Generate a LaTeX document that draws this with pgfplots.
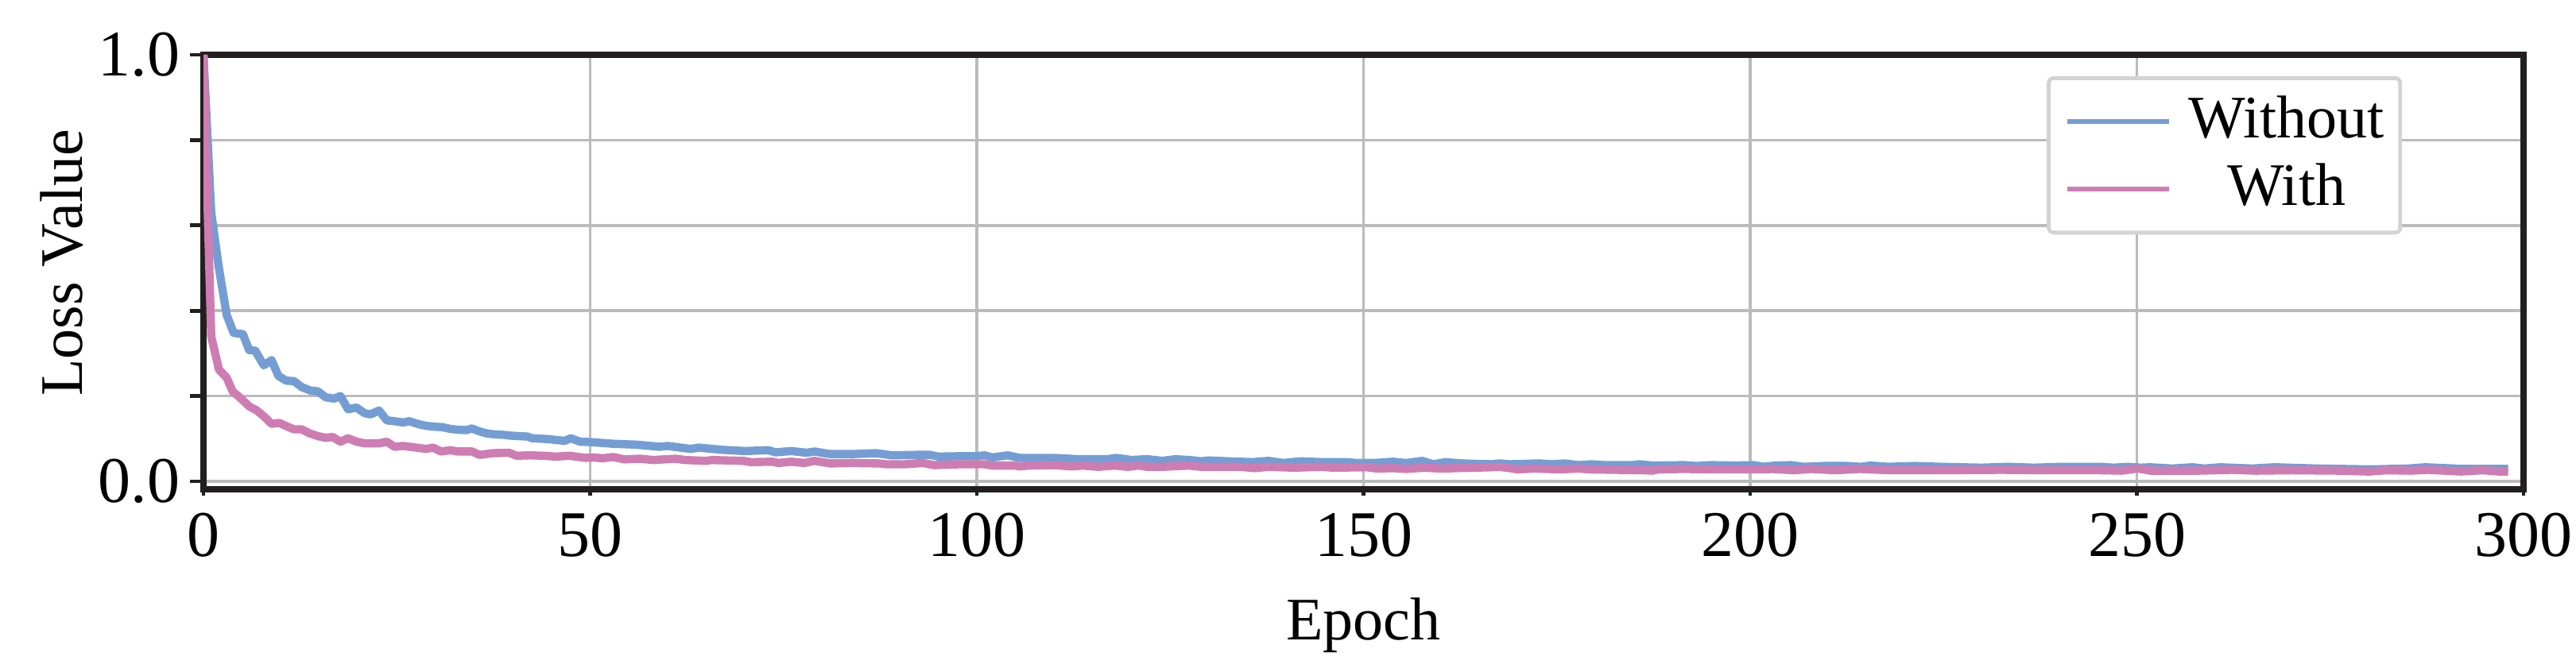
\documentclass[border=0pt]{standalone}
\usepackage{fontspec}
\setmainfont{Liberation Serif}
\usepackage{pgfplots}
\pgfplotsset{compat=1.18}
\definecolor{cblue}{RGB}{116,158,211}
\definecolor{cpink}{RGB}{206,125,179}
\definecolor{framec}{RGB}{35,31,32}
\definecolor{gridgray}{RGB}{187,187,187}
\definecolor{legendgray}{RGB}{211,211,213}
\begin{document}
\begin{tikzpicture}
\path[use as bounding box] (-64pt,-56.25pt) rectangle (746.25pt,154pt);
\begin{axis}[
  scale only axis, width=729.75pt, height=136.75pt,
  at={(0,0)}, anchor=south west,
  xmin=0, xmax=300, ymin=-0.0186, ymax=1,
  xtick={0,50,...,300},
  ytick={0,0.2,0.4,0.6,0.8,1},
  yticklabels={0.0,{},{},{},{},1.0},
  grid=major,
  major grid style={line width=0.9pt, color=gridgray},
  axis line style={line width=2.2pt, color=framec},
  tick pos=left, tick align=outside,
  major tick length=4.25pt,
  tick style={line width=1.2pt, color=framec},
  xtick style={/pgfplots/major tick length=2pt},
  /pgf/number format/assume math mode=true,
  ticklabel style={font=\fontsize{20.5}{24}\selectfont, inner sep=0pt},
  xticklabel style={anchor=north, yshift=-3pt},
  yticklabel style={anchor=east, xshift=-3pt},
  xlabel={Epoch}, ylabel={Loss Value},
  label style={font=\fontsize{19}{22}\selectfont, inner sep=0pt},
  xlabel style={at={(axis description cs:0.5,-0.347)}, anchor=base},
  ylabel style={at={(axis description cs:-0.0522,0.521)}, anchor=base, rotate=0},
  legend cell align=center,
  legend image code/.code={\draw[#1, line width=1.5pt, line cap=butt] (0pt,0pt) -- (32pt,0pt);},
  legend style={at={(0.9476,0.9506)}, anchor=north east,
    draw=legendgray, line width=1.2pt, rounded corners=1.5pt, fill=white,
    inner xsep=5pt, inner ysep=5.5pt, row sep=5.25pt,
    font=\fontsize{19}{22}\selectfont,
    nodes={inner sep=0pt, text depth=3pt},
    /tikz/every odd column/.append style={column sep=5.5pt}},
]
\addplot[color=cblue, line width=2.6pt, line join=round] coordinates {
(0,1.0)(1,0.63)(2,0.50)(3,0.39)(3.9,0.348)(5.1,0.345)(5.9,0.308)(6.7,0.306)(7.8,0.272)(8.8,0.284)(9.7,0.247)(10.7,0.236)(11.7,0.235)(12.7,0.221)(13.8,0.213)(14.8,0.211)(15.8,0.197)(16.9,0.194)(17.7,0.200)(18.7,0.169)(19.8,0.173)(20.8,0.160)(21.6,0.157)(22.7,0.166)(23.7,0.143)(24.7,0.141)(25.8,0.138)(26.6,0.141)(27.8,0.134)(28.8,0.130)(29.9,0.128)(30.9,0.127)(31.9,0.123)(32.9,0.121)(34.0,0.120)(34.7,0.124)(35.7,0.117)(36.7,0.112)(37.7,0.110)(38.8,0.109)(39.8,0.107)(40.8,0.106)(41.9,0.105)(42.5,0.101)(43.6,0.100)(44.6,0.099)(45.6,0.097)(46.7,0.095)(47.5,0.101)(48.7,0.093)(50.1,0.092)(53,0.088)(56,0.086)(59,0.081)(60,0.083)(63,0.076)(64,0.079)(67,0.074)(70,0.071)(73,0.073)(74,0.068)(76,0.071)(78,0.067)(79,0.070)(81,0.064)(84,0.064)(87,0.066)(89,0.061)(92,0.062)(94,0.062)(95,0.058)(98,0.059)(100,0.059)(101,0.061)(102,0.056)(104,0.061)(105.5,0.055)(110,0.055)(113,0.052)(117,0.052)(118,0.055)(120,0.050)(122,0.052)(124,0.048)(125.7,0.052)(128,0.049)(129,0.047)(130,0.049)(132.5,0.047)(135.6,0.045)(137.7,0.048)(139.7,0.043)(141.8,0.047)(144.6,0.045)(148,0.045)(149,0.043)(151.4,0.043)(153.8,0.046)(155.5,0.043)(157.6,0.048)(159,0.040)(160.6,0.045)(162.7,0.042)(166.5,0.040)(167.5,0.042)(169,0.040)(172.7,0.042)(174.4,0.040)(176,0.042)(177.8,0.038)(179.5,0.040)(181.2,0.038)(184.7,0.038)(185.7,0.040)(187.4,0.037)(191.5,0.038)(193,0.036)(194.9,0.038)(198,0.037)(200.4,0.038)(201.8,0.034)(203.2,0.037)(205.3,0.038)(206.9,0.034)(209.5,0.036)(212.4,0.036)(214.4,0.034)(215.5,0.037)(217.9,0.034)(221.3,0.036)(224.7,0.034)(229.9,0.032)(233.3,0.034)(236.7,0.032)(240.2,0.034)(245.3,0.034)(247,0.032)(248.8,0.034)(250.5,0.032)(251.7,0.033)(254.6,0.030)(257.2,0.033)(258.7,0.030)(260.8,0.033)(264.9,0.030)(267.8,0.033)(273.4,0.030)(280.3,0.028)(285.1,0.030)(287.3,0.033)(292.3,0.029)(298,0.029)
};
\addlegendentry{Without}
\addplot[color=cpink, line width=2.6pt, line join=round] coordinates {
(0,1.0)(1,0.34)(2,0.262)(3,0.243)(3.8,0.21)(4.5,0.200)(5.2,0.188)(5.9,0.176)(6.9,0.166)(7.9,0.151)(8.8,0.135)(9.8,0.137)(10.9,0.128)(11.7,0.122)(12.7,0.122)(13.8,0.112)(14.8,0.106)(15.8,0.102)(16.7,0.104)(17.7,0.093)(18.7,0.101)(19.8,0.093)(20.9,0.089)(22.7,0.089)(23.7,0.093)(24.7,0.081)(25.8,0.083)(27.1,0.080)(28.8,0.076)(29.7,0.079)(30.7,0.070)(31.9,0.073)(32.9,0.070)(34.7,0.070)(35.7,0.062)(37.4,0.066)(39.5,0.067)(40.5,0.060)(42.2,0.061)(43.9,0.060)(45.6,0.058)(47.3,0.060)(49.4,0.055)(50.5,0.056)(51.6,0.054)(53,0.057)(54.4,0.0515)(56.4,0.053)(58.2,0.050)(61,0.053)(62.3,0.050)(65,0.048)(65.7,0.050)(67.7,0.049)(69.8,0.048)(70.8,0.045)(73.6,0.046)(74.3,0.043)(76,0.046)(77.7,0.043)(79,0.048)(80.4,0.044)(81,0.042)(83.9,0.043)(87.3,0.042)(88.3,0.040)(90.7,0.040)(93,0.043)(94.5,0.038)(97.6,0.040)(101,0.040)(102,0.037)(105,0.037)(105.5,0.035)(106.8,0.037)(110,0.038)(112.3,0.035)(113.7,0.037)(115.7,0.034)(117.8,0.037)(119.5,0.034)(120.9,0.037)(122,0.034)(124,0.034)(127.4,0.037)(129,0.034)(134,0.034)(136,0.031)(137.7,0.034)(141,0.032)(144.6,0.034)(146,0.032)(150.4,0.033)(151.7,0.030)(153.8,0.031)(155.5,0.029)(157.9,0.032)(160,0.030)(166.5,0.033)(167.5,0.034)(168.9,0.031)(169.9,0.028)(172,0.030)(175.4,0.028)(177.8,0.030)(179.2,0.028)(186,0.026)(187.4,0.025)(188.1,0.028)(191.5,0.029)(194.9,0.028)(201.8,0.028)(202.8,0.029)(205.7,0.026)(207.8,0.029)(211,0.026)(214.1,0.029)(217.9,0.026)(224.7,0.026)(232.5,0.027)(238.5,0.026)(245.3,0.026)(248,0.025)(250.1,0.030)(251.8,0.025)(258,0.025)(262.3,0.027)(265.4,0.025)(270,0.026)(275.9,0.025)(280,0.023)(282.3,0.026)(285.4,0.025)(287.6,0.027)(291.9,0.023)(294.7,0.026)(296.8,0.023)(298,0.023)
};
\addlegendentry{With}
\end{axis}
\end{tikzpicture}
\end{document}
